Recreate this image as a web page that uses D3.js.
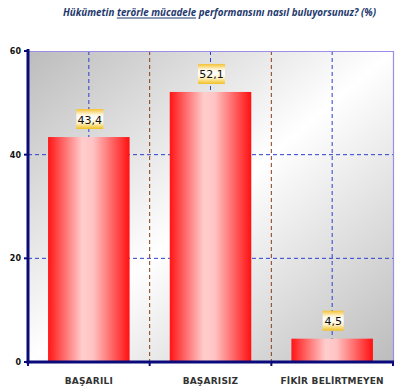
<!DOCTYPE html>
<html><head><meta charset="utf-8">
<script src="https://cdn.jsdelivr.net/npm/d3@7"></script>
<style>body{margin:0;background:#fff}svg{display:block}</style>
</head><body><svg id="c" width="417" height="392"></svg>
<script>
const categories = ["BAŞARILI", "BAŞARISIZ", "FİKİR BELİRTMEYEN"];
const values = [43.4, 52.1, 4.5];
const valueLabels = ["43,4", "52,1", "4,5"];
const yTicks = [0, 20, 40, 60];
const titleText = "Hükümetin terörle mücadele performansını nasıl buluyorsunuz? (%)";
const underlined = "terörle mücadele";

const svg = d3.select("#c");
const L = 28, R = 393, T = 51, B = 362;
const x = d3.scaleBand().domain(categories).range([L, R]).paddingInner(0.33).paddingOuter(0.165);
const xc = d3.scaleBand().domain(categories).range([L, R]);
const y = d3.scaleLinear().domain([0, 60]).range([B, T]);

const defs = svg.append("defs");
const bg = defs.append("linearGradient").attr("id","bg").attr("x1",0).attr("y1",0).attr("x2",1).attr("y2",1);
[[0,"#bcbcbc"],[0.5,"#ffffff"],[1,"#bcbcbc"]].forEach(s=>bg.append("stop").attr("offset",s[0]).attr("stop-color",s[1]));
const bar = defs.append("linearGradient").attr("id","bar").attr("x1",0).attr("y1",0).attr("x2",1).attr("y2",0);
[[0,"#ff1515"],[0.42,"#ffcdcd"],[0.55,"#ffc4c4"],[1,"#ff1010"]].forEach(s=>bar.append("stop").attr("offset",s[0]).attr("stop-color",s[1]));
const lab = defs.append("linearGradient").attr("id","lab").attr("x1",0).attr("y1",0).attr("x2",0).attr("y2",1);
[[0,"#f5c232"],[0.28,"#fff6dc"],[0.45,"#ffffff"],[0.7,"#fff2c8"],[1,"#f0c020"]].forEach(s=>lab.append("stop").attr("offset",s[0]).attr("stop-color",s[1]));

// title
const title = svg.append("text").attr("x", 63).attr("y", 16)
  .attr("textLength", 313).attr("lengthAdjust","spacingAndGlyphs")
  .attr("font-family","'Open Sans', 'Noto Sans', sans-serif").attr("font-size",11)
  .attr("font-style","italic").attr("font-weight","bold").attr("fill","#1f3a6e").text(titleText);
const ui = titleText.indexOf(underlined);
const tn = title.node();
const ux0 = tn.getStartPositionOfChar(ui).x;
const ux1 = tn.getEndPositionOfChar(ui + underlined.length - 1).x;
svg.append("line").attr("x1",ux0).attr("x2",ux1).attr("y1",18).attr("y2",18)
  .attr("stroke","#1f3a6e").attr("stroke-width",1);

// plot background
svg.append("rect").attr("x",L).attr("y",T).attr("width",R-L).attr("height",B-T).attr("fill","url(#bg)");

// grid horizontal
svg.append("g").selectAll("line").data(yTicks.filter(d=>d>0 && d<60)).join("line")
  .attr("x1",L).attr("x2",R).attr("y1",d=>y(d)).attr("y2",d=>y(d))
  .attr("stroke","#2b3fd0").attr("stroke-width",1).attr("stroke-dasharray","4,3");
// category separators
svg.append("g").selectAll("line").data(categories.slice(1)).join("line")
  .attr("x1",d=>xc(d)).attr("x2",d=>xc(d)).attr("y1",T).attr("y2",B)
  .attr("stroke","#8b3a1a").attr("stroke-width",1).attr("stroke-dasharray","4,3");
// center lines
svg.append("g").selectAll("line").data(categories).join("line")
  .attr("x1",d=>x(d)+x.bandwidth()/2).attr("x2",d=>x(d)+x.bandwidth()/2).attr("y1",T).attr("y2",B)
  .attr("stroke","#2b3fd0").attr("stroke-width",1).attr("stroke-dasharray","4,3");

// border top/right
svg.append("path").attr("d",`M${L},${T+0.5}H${R+0.5}V${B}`).attr("fill","none").attr("stroke","#9a8ee8").attr("stroke-width",1.2);

// bars
svg.append("g").selectAll("rect").data(values).join("rect")
  .attr("x",(d,i)=>x(categories[i])).attr("width",x.bandwidth())
  .attr("y",d=>y(d)).attr("height",d=>B-y(d)).attr("fill","url(#bar)");

// value labels
const lg = svg.append("g").selectAll("g").data(values).join("g")
  .attr("transform",(d,i)=>`translate(${x(categories[i])+x.bandwidth()/2+1},${y(d)-8})`);
lg.append("rect").attr("x",(d,i)=>-(valueLabels[i].length*3+1.5)).attr("y",-20)
  .attr("width",(d,i)=>valueLabels[i].length*6+3).attr("height",20).attr("fill","url(#lab)");
lg.append("text").attr("text-anchor","middle").attr("y",-5.5)
  .attr("font-family","'DejaVu Sans', Verdana, sans-serif").attr("font-size",11).attr("fill","#111")
  .text((d,i)=>valueLabels[i]);

// y axis
svg.append("line").attr("x1",L).attr("x2",L).attr("y1",T-2).attr("y2",B+1.5).attr("stroke","#0a0a7a").attr("stroke-width",3);
const yt = svg.append("g").selectAll("g").data(yTicks).join("g").attr("transform",d=>`translate(0,${y(d)})`);
yt.append("line").attr("x1",L-4).attr("x2",L).attr("stroke","#0a0a7a").attr("stroke-width",2);
yt.append("text").attr("x",L-7).attr("y",3).attr("text-anchor","end")
  .attr("font-family","'DejaVu Sans', sans-serif").attr("font-size",8).attr("font-weight","bold").attr("fill","#111").text(d=>d);

// x axis
svg.append("line").attr("x1",L-1.5).attr("x2",R+1).attr("y1",B).attr("y2",B).attr("stroke","#0a0a7a").attr("stroke-width",3);
const xt = [L, ...categories.slice(1).map(d=>xc(d)), R];
svg.append("g").selectAll("line").data(xt).join("line")
  .attr("x1",d=>d).attr("x2",d=>d).attr("y1",B).attr("y2",B+4).attr("stroke","#0a0a7a").attr("stroke-width",2);

svg.append("g").selectAll("text").data(categories).join("text")
  .attr("x",d=>x(d)+x.bandwidth()/2).attr("y",384).attr("text-anchor","middle")
  .attr("font-family","'DejaVu Sans', Verdana, sans-serif").attr("font-size",9).attr("font-weight","bold")
  .attr("letter-spacing",0.2).attr("fill","#333").text(d=>d);
</script></body></html>
